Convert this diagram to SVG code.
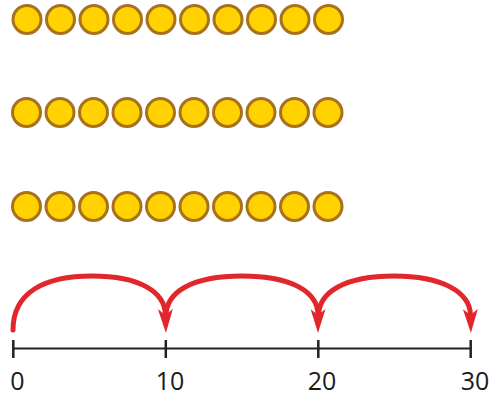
<svg xmlns="http://www.w3.org/2000/svg" width="495" height="398" viewBox="0 0 495 398">
<defs>
<style>
.c{fill:#FFD200;stroke:#A8711E;stroke-width:3}
.ax{stroke:#222;stroke-width:2;fill:none}
.tk{stroke:#222;stroke-width:2.5}
.arc{fill:none;stroke:#E1262C;stroke-width:5;stroke-linecap:round}
.lb{font-family:"Open Sans","Noto Sans",sans-serif;font-size:25px;fill:#1a1a1a;text-anchor:middle}
</style>
<marker id="ah" viewBox="0 0 24 15" refX="6" refY="7.5" markerWidth="24" markerHeight="15" markerUnits="userSpaceOnUse" orient="auto">
<path d="M0,0 L24,7.5 L0,15 L6,7.5 Z" fill="#E1262C"/>
</marker>
<circle id="d" class="c" r="14"/>
<g id="row">
<use href="#d" x="27" y="0"/><use href="#d" x="60.5" y="0"/><use href="#d" x="94" y="0"/><use href="#d" x="127.5" y="0"/><use href="#d" x="161" y="0"/><use href="#d" x="194.5" y="0"/><use href="#d" x="228" y="0"/><use href="#d" x="261.5" y="0"/><use href="#d" x="295" y="0"/><use href="#d" x="328.5" y="0"/>
</g>
</defs>
<g id="row1"><use href="#row" y="19.5"/></g>
<g id="row2"><use href="#row" x="-0.5" y="112.5"/></g>
<g id="row3"><use href="#row" x="-0.5" y="206.5"/></g>
<g id="numberline">
<line class="ax" x1="13" y1="348.5" x2="471" y2="348.5"/>
<line class="tk" x1="13.3" y1="340" x2="13.3" y2="358"/>
<line class="tk" x1="165.8" y1="340" x2="165.8" y2="358"/>
<line class="tk" x1="318.3" y1="340" x2="318.3" y2="358"/>
<line class="tk" x1="470.7" y1="340" x2="470.7" y2="358"/>
<text class="lb" x="17.5" y="390">0</text>
<text class="lb" x="170" y="390">10</text>
<text class="lb" x="322" y="390">20</text>
<text class="lb" x="475" y="390">30</text>
</g>
<g id="connectors">
<path class="arc" marker-end="url(#ah)" d="M13,330 C13,292 45,276 92,276 C140,276 165,292 165.5,315"/>
<path class="arc" marker-end="url(#ah)" d="M166,316 C166,292 192,276 242,276 C292,276 318,292 318,315"/>
<path class="arc" marker-end="url(#ah)" d="M318.5,316 C318.5,292 345,276 394,276 C442,276 470,292 470.5,315"/>
</g>
</svg>
